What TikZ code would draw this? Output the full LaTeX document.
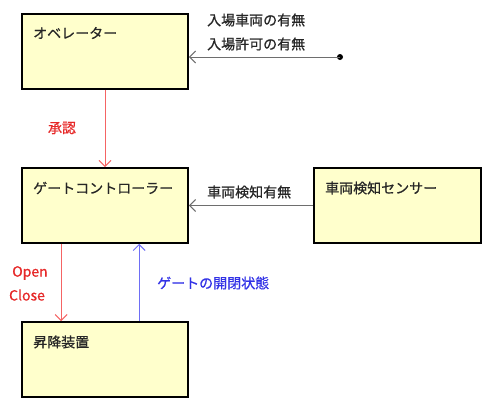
\documentclass[tikz,border=0pt]{standalone}
\usepackage{fontspec}
\newfontfamily\jpfont[FakeBold=0.7]{Noto Sans CJK JP}
\usetikzlibrary{positioning,arrows.meta}
\definecolor{boxfill}{RGB}{255,255,204}
\definecolor{redline}{RGB}{245,100,100}
\definecolor{redtext}{RGB}{230,40,40}
\definecolor{blueline}{RGB}{110,110,245}
\definecolor{bluetext}{RGB}{50,50,230}
\definecolor{grayline}{RGB}{110,110,110}
\tikzset{
	blk/.style={draw=black, line width=1.7pt, fill=boxfill, minimum height=75pt, inner sep=0pt},
	txt/.style={font=\jpfont\fontsize{14}{16}\selectfont, text=black!85, inner sep=0pt},
	flow/.style={line width=1pt, -{Straight Barb[length=6pt,width=12pt]}}
}
\begin{document}
\begin{tikzpicture}[x=1pt,y=-1pt]
			\useasboundingbox (0,0) rectangle (490,405);
			% 四つの方格
			\node[blk, minimum width=166pt] (ope) at (105,51.5) {};
			\node[blk, minimum width=166pt] (ctl) at (105,205.5) {};
			\node[blk, minimum width=167pt] (sen) at (397.5,205.5) {};
			\node[blk, minimum width=166pt] (lift) at (105,359.5) {};
			\node[txt, anchor=west] (opet) at (33,33) {オベレーター};
			\node[txt, anchor=west] (ctlt) at (33,188) {ゲートコントローラー};
			\node[txt, anchor=west] (sent) at (325,188) {車両検知センサー};
			\node[txt, anchor=west] (liftt) at (33,342) {昇降装置};
			% 入力
			\fill (340,57) circle (3pt) coordinate (src);
			\draw[flow, grayline] (src) -- (src -| ope.east);
			\node[txt, anchor=west] (in1) at (207,20) {入場車両の有無};
			\node[txt, anchor=west] (in2) at (207,44) {入場許可の有無};
			% 承認
			\draw[flow, redline] (ope.south) -- (ctl.north);
			\node[txt, text=redtext] (ok) at (62,128) {承認};
			% 検知
			\draw[flow, grayline] (sen.west) -- (ctl.east);
			\node[txt, anchor=west] (det) at (207,192) {車両検知有無};
			% 開閉
			\draw[flow, redline] ([xshift=40pt]ctl.south west) -- ([xshift=40pt]lift.north west);
			\node[txt, text=redtext] (opn) at (30,273) {Open};
			\node[txt, text=redtext] (cls) at (27,295) {Close};
			\draw[flow, blueline] ([xshift=118pt]lift.north west) -- ([xshift=118pt]ctl.south west);
			\node[txt, text=bluetext, anchor=west] (st) at (157,283) {ゲートの開閉状態};
		\end{tikzpicture}
\end{document}
